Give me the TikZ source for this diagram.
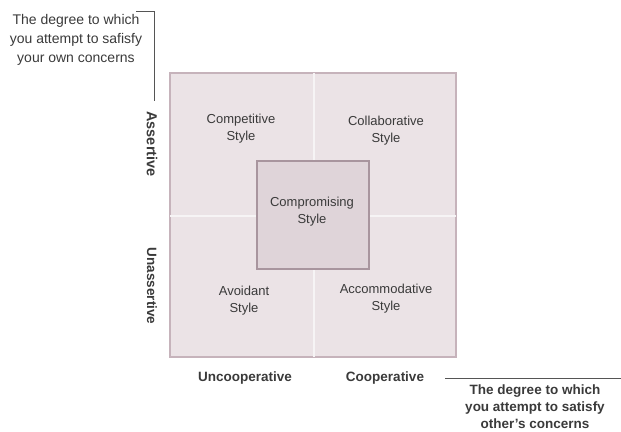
\documentclass[tikz,border=0pt]{standalone}
\usepackage{fontspec}
\setmainfont{Liberation Sans}
\definecolor{quadfill}{HTML}{EBE3E6}
\definecolor{quadedge}{HTML}{C6B3BB}
\definecolor{midfill}{HTML}{DFD4D9}
\definecolor{midedge}{HTML}{A8959E}
\definecolor{txt}{HTML}{3A3A3A}
\definecolor{bracket}{HTML}{555555}
\tikzset{
  quadlabel/.style={align=center, text=txt, font=\fontsize{13}{17}\selectfont, inner sep=0pt},
  axislabel/.style={text=txt, font=\fontsize{13.5}{17}\selectfont\bfseries, inner sep=0pt},
  notelabel/.style={align=center, text=txt, inner sep=0pt},
  bracketline/.style={draw=bracket, line width=1pt},
}
\begin{document}
\begin{tikzpicture}[x=1pt,y=-1pt]
\useasboundingbox (0,0) rectangle (621,431);
% outer square
\node[draw=quadedge, fill=quadfill, line width=1.2pt, minimum width=286pt, minimum height=284pt, inner sep=0pt] (outer) at (313,215) {};
\coordinate (vt) at (314,73);
\coordinate (vb) at (314,357);
\coordinate (hl) at (170,216);
\coordinate (hr) at (456,216);
\draw[white!85!quadedge, line width=1.3pt] (vt) -- (vb);
\draw[white!85!quadedge, line width=1.3pt] (hl) -- (hr);
% inner square
\node[draw=midedge, fill=midfill, line width=1.2pt, minimum width=112pt, minimum height=108pt, inner sep=0pt] (inner) at (313,215) {};
% quadrant labels
\node[quadlabel] (comp) at (241,129) {Competitive\\Style};
\node[quadlabel] (coll) at (386,131) {Collaborative\\Style};
\node[quadlabel] (compr) at (312,212) {Compromising\\Style};
\node[quadlabel] (avoid) at (244,301) {Avoidant\\Style};
\node[quadlabel] (accom) at (386,299) {Accommodative\\Style};
% axis labels
\node[axislabel, rotate=-90, font=\fontsize{14.5}{17}\selectfont\bfseries] (assert) at (152,144) {Assertive};
\node[axislabel, rotate=-90] (unassert) at (152,286) {Unassertive};
\node[axislabel] (uncoop) at (245,378) {Uncooperative};
\node[axislabel] (coop) at (385,378) {Cooperative};
% notes
\node[notelabel, font=\fontsize{14}{19}\selectfont] (note1) at (76,40) {The degree to which\\you attempt to safisfy\\your own concerns};
\node[notelabel, font=\fontsize{13.5}{17}\selectfont\bfseries] (note2) at (535,407) {The degree to which\\you attempt to satisfy\\other's concerns};
% brackets
\coordinate (b1a) at (136,11);
\coordinate (b1b) at (154,11);
\coordinate (b1c) at (154,101);
\draw[bracketline] (b1a) -- (b1b) -- (b1c);
\coordinate (b2a) at (445,378);
\coordinate (b2b) at (621,378);
\draw[bracketline] (b2a) -- (b2b);
\end{tikzpicture}
\end{document}
